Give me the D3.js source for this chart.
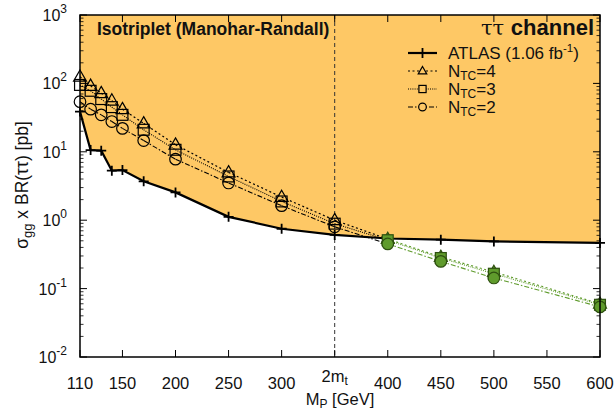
<!DOCTYPE html>
<html><head><meta charset="utf-8">
<script src="https://cdn.jsdelivr.net/npm/d3@7"></script>
<style>body{margin:0;background:#fff}svg{display:block}text{font-family:"Liberation Sans",Arial,Helvetica,sans-serif}</style>
</head><body>
<script>
const masses = [110,120,130,140,150,170,200,250,300,350,400,450,500,600];
const atlas  = [38.7,10.6,10.4,5.3,5.4,3.7,2.55,1.12,0.75,0.61,0.54,0.52,0.49,0.465];
const ntc4   = [125,92,72,56,42,26,12.7,5.0,2.18,1.0,0.53,0.29,0.175,0.06];
const ntc3   = [95,78,59,45,34.7,21,10.7,4.36,1.88,0.89,0.51,0.28,0.165,0.058];
const ntc2   = [54,42,34.7,27.7,22,14.6,7.8,3.5,1.63,0.80,0.45,0.25,0.143,0.054];
const xTicks = [110,150,200,250,300,350,400,450,500,550,600];
const xTickLabels = ["110","150","200","250","300","2m_t","400","450","500","550","600"];
const yTicks = [0.01,0.1,1,10,100,1000];
const yTickExp = ["-2","-1","0","1","2","3"];
const twoMt = 350;

const W=614,H=412, L=80,R=600,T=15,B=357;
const svg=d3.select("body").append("svg").attr("width",W).attr("height",H);
const x=d3.scaleLinear().domain([110,600]).range([L,R]);
const y=d3.scaleLog().domain([0.01,1000]).range([B,T]);
const ORANGE="#FEC865", GREEN="#5f9b2c", GREENS="#2e5010";

const pts = masses.map((m,i)=>({m,v:atlas[i]}));
svg.append("path").datum(pts)
  .attr("d", d3.area().x(d=>x(d.m)).y0(T).y1(d=>y(d.v)))
  .attr("fill",ORANGE);

svg.append("line").attr("x1",x(twoMt)).attr("x2",x(twoMt)).attr("y1",T).attr("y2",B)
  .attr("stroke","#333").attr("stroke-width",1).attr("stroke-dasharray","4,3");

const g=svg.append("g");
yTicks.forEach(v=>{
  [[L,1],[R,-1]].forEach(([x0,s])=>{
    g.append("line").attr("x1",x0).attr("x2",x0+s*7).attr("y1",y(v)).attr("y2",y(v)).attr("stroke","#000");
  });
  if(v<1000){
    for(let k=2;k<=9;k++){
      const vv=v*k;
      [[L,1],[R,-1]].forEach(([x0,s])=>{
        g.append("line").attr("x1",x0).attr("x2",x0+s*3.5).attr("y1",y(vv)).attr("y2",y(vv)).attr("stroke","#000").attr("stroke-width",0.8);
      });
    }
  }
});
xTicks.forEach(v=>{
  g.append("line").attr("x1",x(v)).attr("x2",x(v)).attr("y1",B).attr("y2",B-7).attr("stroke","#000");
  g.append("line").attr("x1",x(v)).attr("x2",x(v)).attr("y1",T).attr("y2",T+7).attr("stroke","#000");
});

const series=[
  {name:"4",vals:ntc4,dash:"2,2.5",sym:"tri",w:1.2},
  {name:"3",vals:ntc3,dash:"1,1.2",sym:"sq",w:1.1},
  {name:"2",vals:ntc2,dash:"5,2,1.5,2",sym:"circ",w:1.1}
];
const allowed=(s,i)=>s.vals[i]<atlas[i];
series.forEach(s=>{
  for(let i=0;i<masses.length-1;i++){
    const ok=allowed(s,i)&&allowed(s,i+1);
    svg.append("line").attr("x1",x(masses[i])).attr("y1",y(s.vals[i]))
      .attr("x2",x(masses[i+1])).attr("y2",y(s.vals[i+1]))
      .attr("stroke",ok?GREEN:"#000").attr("stroke-width",s.w).attr("stroke-dasharray",s.dash);
  }
});

svg.append("path").datum(pts)
  .attr("d",d3.line().x(d=>x(d.m)).y(d=>y(d.v)))
  .attr("fill","none").attr("stroke","#000").attr("stroke-width",2.2);
function plus(gg,cx,cy,sz){
  gg.append("path").attr("d",`M${cx-sz},${cy}H${cx+sz}M${cx},${cy-sz}V${cy+sz}`)
    .attr("stroke","#000").attr("stroke-width",1.8).attr("fill","none");
}
pts.forEach(d=>plus(svg,x(d.m),y(d.v),5));

function marker(gg,sym,cx,cy,sz,fill,stroke){
  let el;
  if(sym==="tri"){
    const h=sz*1.0;
    el=gg.append("path").attr("d",`M${cx},${cy-h}L${cx+h*0.95},${cy+h*0.65}L${cx-h*0.95},${cy+h*0.65}Z`);
  } else if(sym==="sq"){
    el=gg.append("rect").attr("x",cx-sz*0.8).attr("y",cy-sz*0.8).attr("width",sz*1.6).attr("height",sz*1.6);
  } else {
    el=gg.append("circle").attr("cx",cx).attr("cy",cy).attr("r",sz*0.85);
  }
  el.attr("fill",fill).attr("stroke",stroke).attr("stroke-width",1.2);
}
series.forEach(s=>{
  s.vals.forEach((v,i)=>{
    const ok=allowed(s,i);
    marker(svg,s.sym,x(masses[i]),y(v),6.8,ok?GREEN:"none",ok?GREENS:"#000");
  });
});

svg.append("rect").attr("x",L).attr("y",T).attr("width",R-L).attr("height",B-T)
  .attr("fill","none").attr("stroke","#000").attr("stroke-width",1.5);

xTicks.forEach((v,i)=>{
  const lab=xTickLabels[i];
  const t=svg.append("text").attr("x",x(v)).attr("y",389).attr("text-anchor","middle")
    .attr("font-size",16.5).attr("fill","#111");
  if(lab.includes("_")){
    const [a,b]=lab.split("_");
    t.attr("y",382);
    t.append("tspan").text(a);
    t.append("tspan").text(b).attr("font-size",12).attr("dy",3);
  } else t.text(lab);
});
yTicks.forEach((v,i)=>{
  const t=svg.append("text").attr("x",67).attr("y",y(v)+6).attr("text-anchor","end")
    .attr("font-size",16).attr("fill","#111");
  t.append("tspan").text("10");
  t.append("tspan").text(yTickExp[i]).attr("font-size",12).attr("dy",-8);
});

const xt=svg.append("text").attr("x",340).attr("y",405).attr("text-anchor","middle").attr("font-size",16.5).attr("fill","#111");
xt.append("tspan").text("M");
xt.append("tspan").text("P").attr("font-size",12).attr("dy",3);
xt.append("tspan").text(" [GeV]").attr("dy",-3);
const yt=svg.append("text").attr("transform","translate(28,185) rotate(-90)").attr("text-anchor","middle").attr("font-size",17.5).attr("fill","#111");
yt.append("tspan").text("σ");
yt.append("tspan").text("gg").attr("font-size",13).attr("dy",4);
yt.append("tspan").text(" x BR(ττ) [pb]").attr("dy",-4);

svg.append("text").attr("x",97).attr("y",35).attr("font-size",17.5).attr("font-weight","bold").attr("fill","#111")
  .text("Isotriplet (Manohar-Randall)");
const ch=svg.append("text").attr("x",594).attr("y",35).attr("text-anchor","end").attr("font-size",22).attr("fill","#111");
ch.append("tspan").text("ττ ").attr("font-family","'DejaVu Serif',serif").attr("font-size",21);
ch.append("tspan").text("channel").attr("font-weight","bold");

const lx0=408,lx1=437,tx=448;
const rows=[53,71,89,107];
svg.append("line").attr("x1",lx0).attr("x2",lx1).attr("y1",rows[0]).attr("y2",rows[0]).attr("stroke","#000").attr("stroke-width",2.2);
plus(svg,(lx0+lx1)/2,rows[0],5);
const lt=svg.append("text").attr("x",tx).attr("y",rows[0]+6).attr("font-size",17).attr("fill","#111");
lt.append("tspan").text("ATLAS (1.06 fb");
lt.append("tspan").text("-1").attr("font-size",11.5).attr("dy",-7);
lt.append("tspan").text(")").attr("dy",7);
series.forEach((s,i)=>{
  const ry=rows[i+1];
  svg.append("line").attr("x1",lx0).attr("x2",lx1).attr("y1",ry).attr("y2",ry).attr("stroke","#000").attr("stroke-width",s.w).attr("stroke-dasharray",s.dash);
  marker(svg,s.sym,(lx0+lx1)/2,ry,4.5,ORANGE,"#000");
  const t=svg.append("text").attr("x",tx).attr("y",ry+6).attr("font-size",17).attr("fill","#111");
  t.append("tspan").text("N");
  t.append("tspan").text("TC").attr("font-size",12).attr("dy",3);
  t.append("tspan").text("="+s.name).attr("dy",-3);
});
</script>
</body></html>
